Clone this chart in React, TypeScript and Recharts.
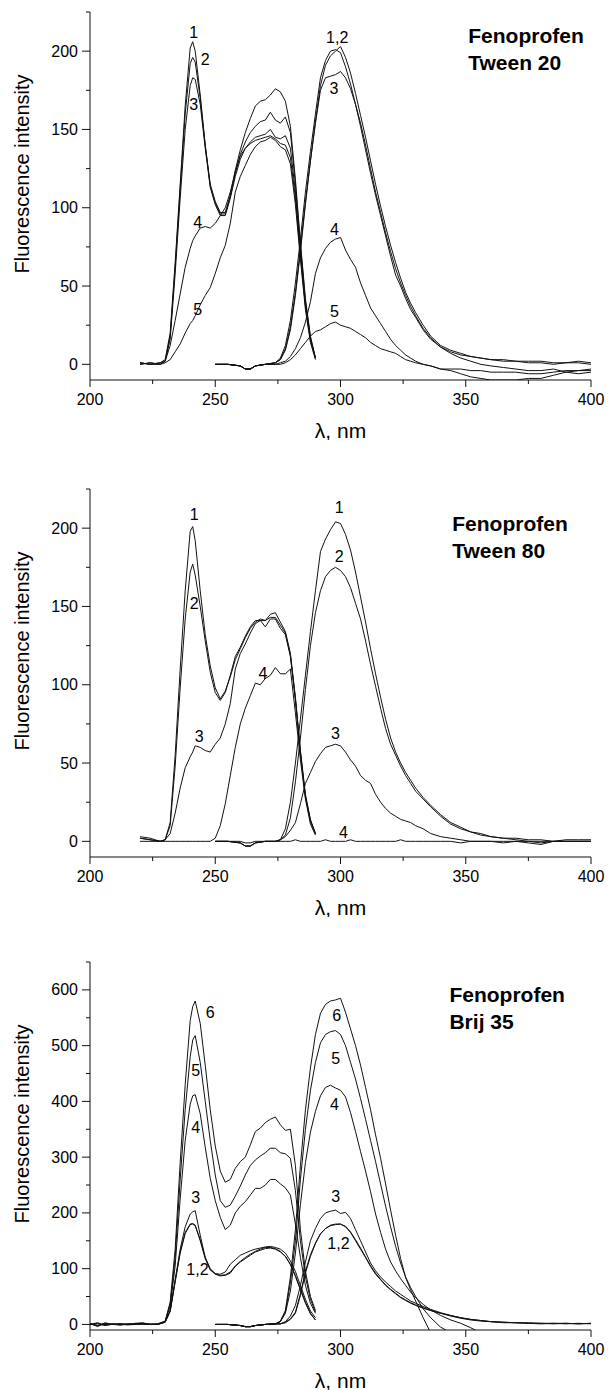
import React from "react";
import { LineChart, Line, XAxis, YAxis, ReferenceDot, Label } from "recharts";

const FONT = '"Liberation Sans", Arial, Helvetica, sans-serif';
const INK = "#111";

// wavelength grids, nm
const EX_WL = [220, 224, 228, 230, 232, 234, 236, 238, 240, 241, 242, 244, 246, 248, 250, 252, 254, 256, 258, 260, 262, 264, 266, 268, 270, 272, 274, 276, 278, 280, 282, 284, 286, 288, 290];
const BRIJ_EX_WL = [200, 203, 206, 209, 212, 215, 218, 221, 224, 227, 230, 232, 234, 236, 238, 240, 241, 242, 244, 246, 248, 250, 252, 254, 256, 258, 260, 262, 264, 266, 268, 270, 272, 274, 276, 278, 280, 282, 284, 286, 288, 290];
const EM_WL = [250, 255, 260, 262, 264, 266, 270, 274, 276, 278, 280, 282, 284, 286, 288, 290, 292, 294, 296, 298, 300, 302, 304, 306, 308, 310, 312, 314, 316, 318, 320, 322, 324, 326, 328, 330, 333, 336, 340, 344, 348, 352, 356, 360, 365, 370, 375, 380, 385, 390, 395, 400];

// Tween 20 - excitation
const T20_EX_1 = [1, 0, 1, 3, 20, 65, 115, 165, 202, 206, 200, 172, 140, 115, 104, 97, 97, 108, 124, 137, 148, 157, 165, 168, 169, 172, 176, 174, 168, 152, 118, 78, 42, 18, 4];
const T20_EX_2 = [0, 1, 0, 2, 18, 62, 112, 160, 192, 196, 193, 170, 140, 114, 103, 96, 96, 107, 122, 134, 142, 148, 152, 155, 156, 161, 156, 154, 158, 148, 115, 76, 40, 17, 4];
const T20_EX_3 = [1, 0, 1, 2, 16, 58, 106, 150, 178, 183, 182, 166, 138, 113, 102, 95, 95, 106, 120, 131, 138, 142, 145, 146, 147, 150, 145, 144, 146, 138, 110, 72, 38, 16, 4];
const T20_EX_4 = [0, 1, 0, 2, 12, 28, 45, 62, 74, 79, 82, 87, 88, 87, 90, 95, 100, 110, 123, 133, 138, 141, 143, 144, 145, 146, 144, 141, 140, 132, 106, 70, 37, 15, 4];
const T20_EX_5 = [1, 0, 0, 1, 3, 8, 13, 20, 26, 28, 31, 38, 44, 49, 58, 68, 76, 90, 110, 120, 127, 134, 139, 142, 143, 145, 143, 139, 137, 128, 102, 67, 35, 14, 3];
// Tween 20 - emission
const T20_EM_1 = [0, 0, -1, -3, -3, -1, 0, 1, 4, 12, 28, 52, 80, 110, 136, 160, 183, 194, 200, 201, 199, 190, 179, 166, 152, 137, 122, 108, 95, 82, 69, 57, 50, 42, 35, 30, 22, 16, 11, 8, 6, 5, 4, 3, 2, 2, 1, 1, 0, 1, 1, 0];
const T20_EM_2 = [0, 0, -1, -3, -3, -1, 0, 1, 3, 9, 22, 44, 72, 102, 130, 155, 178, 191, 197, 200, 203, 196, 186, 173, 159, 145, 130, 115, 101, 88, 76, 65, 55, 46, 39, 33, 25, 18, 12, 9, 7, 5, 4, 3, 3, 2, 2, 2, 1, 1, 2, 1];
const T20_EM_3 = [0, 0, -1, -3, -3, -1, 0, 1, 3, 10, 24, 46, 74, 104, 130, 154, 175, 183, 184, 185, 187, 183, 176, 166, 154, 140, 125, 110, 97, 84, 72, 61, 52, 44, 37, 31, 23, 17, 11, 7, 4, 2, 0, -1, -2, -3, -4, -4, -3, -5, -4, -4];
const T20_EM_4 = [0, 0, -1, -3, -3, -1, 0, 0, 1, 2, 5, 10, 17, 27, 40, 58, 68, 74, 78, 80, 81, 73, 67, 62, 52, 44, 36, 31, 26, 21, 16, 12, 9, 6, 4, 2, 0, -1, -3, -4, -6, -8, -9, -10, -10, -10, -9, -9, -7, -5, -6, -5];
const T20_EM_5 = [0, 0, -1, -3, -3, -1, 0, 0, 0, 1, 3, 6, 10, 14, 18, 21, 22, 24, 26, 27, 25, 24, 23, 21, 19, 17, 14, 12, 10, 9, 8, 7, 5, 3, 2, 1, 0, -1, -3, -3, -3, -4, -4, -5, -5, -5, -6, -6, -5, -4, -4, -3];

// Tween 80 - excitation
const T80_EX_1 = [3, 2, 0, 1, 12, 55, 110, 160, 198, 201, 192, 160, 132, 112, 98, 91, 96, 105, 116, 123, 130, 136, 140, 142, 141, 145, 146, 140, 134, 120, 92, 58, 30, 14, 5];
const T80_EX_2 = [2, 1, 0, 1, 10, 48, 98, 142, 172, 177, 170, 150, 128, 108, 95, 90, 95, 106, 118, 124, 131, 137, 141, 141, 137, 142, 142, 136, 132, 118, 90, 56, 28, 13, 5];
const T80_EX_3 = [2, 1, 0, 1, 5, 18, 34, 47, 54, 57, 61, 60, 58, 57, 62, 66, 75, 88, 110, 120, 126, 133, 139, 141, 141, 143, 143, 138, 133, 119, 91, 57, 29, 13, 5];
const T80_EX_4 = [0, 0, 0, 0, 0, 0, 0, 0, 0, 0, 0, 0, 0, 0, 2, 10, 24, 42, 60, 75, 85, 93, 101, 100, 104, 106, 111, 107, 107, 110, 82, 52, 27, 11, 4];
// Tween 80 - emission
const T80_EM_1 = [0, 0, -1, -3, -3, -1, 0, 0, 1, 8, 25, 50, 78, 106, 134, 160, 185, 193, 199, 204, 203, 196, 186, 172, 156, 140, 123, 107, 92, 78, 66, 57, 50, 44, 39, 34, 28, 23, 17, 12, 9, 6, 5, 3, 2, 2, 1, 1, 0, 1, 1, 1];
const T80_EM_2 = [0, 0, -1, -3, -3, -1, 0, 0, 1, 4, 15, 38, 66, 97, 125, 146, 160, 169, 173, 175, 173, 169, 162, 152, 142, 128, 113, 99, 85, 72, 62, 55, 48, 42, 37, 32, 27, 22, 16, 11, 8, 6, 4, 3, 2, 1, 0, -1, 0, 0, 0, 0];
const T80_EM_3 = [0, 0, -1, -3, -3, -1, 0, 0, 1, 3, 7, 12, 24, 37, 44, 51, 56, 60, 61, 62, 61, 57, 52, 48, 42, 39, 37, 30, 25, 21, 18, 16, 14, 13, 12, 10, 8, 5, 3, 2, 1, 0, 0, 0, -1, 0, -1, -2, 0, 0, 0, 0];
const T80_EM_4 = [0, 0, 0, -1, -1, 0, 0, 0, 0, 0, 0, 1, 0, 0, 0, 0, 0, 1, 0, 0, 0, 0, 1, 0, 0, 0, 0, 0, 0, 0, 0, 0, 1, 0, 0, 0, 0, 0, 0, 0, -1, 0, 0, 0, 0, 0, 0, 0, 0, 0, 0, 0];

// Brij 35 - excitation
const BRIJ_EX_1 = [1, -2, 0, 1, -1, 0, 1, 2, 0, 0, 4, 24, 78, 130, 165, 180, 181, 178, 150, 118, 98, 90, 87, 88, 92, 104, 112, 118, 124, 130, 133, 136, 137, 135, 130, 122, 108, 88, 64, 40, 20, 8];
const BRIJ_EX_2 = [0, 3, -1, 0, 1, -1, 0, 1, 1, 0, 4, 23, 76, 128, 163, 179, 180, 177, 152, 120, 100, 91, 88, 89, 94, 105, 113, 120, 126, 131, 135, 138, 138, 136, 131, 122, 107, 86, 62, 38, 19, 8];
const BRIJ_EX_3 = [0, 1, -1, 0, 1, 0, 1, 0, 0, 0, 4, 25, 80, 135, 175, 198, 202, 204, 160, 120, 98, 91, 90, 94, 108, 116, 124, 128, 132, 135, 137, 139, 140, 138, 135, 128, 114, 95, 70, 45, 24, 12];
const BRIJ_EX_4 = [1, -2, 2, 0, -1, 1, 0, 2, 0, 0, 5, 32, 105, 225, 330, 395, 410, 412, 378, 318, 262, 222, 192, 170, 178, 200, 212, 220, 232, 244, 244, 250, 260, 260, 252, 245, 232, 180, 120, 70, 38, 20];
const BRIJ_EX_5 = [0, 2, -2, 1, 0, 1, 0, 1, 0, 1, 5, 36, 120, 260, 385, 480, 510, 518, 470, 400, 330, 268, 222, 210, 214, 230, 248, 268, 285, 295, 302, 308, 316, 316, 308, 306, 298, 240, 150, 85, 45, 22];
const BRIJ_EX_6 = [2, -4, 3, 0, 1, 0, 2, 3, 0, 1, 6, 40, 135, 290, 430, 545, 570, 580, 540, 465, 385, 320, 275, 255, 260, 280, 292, 300, 322, 346, 352, 362, 368, 372, 358, 348, 350, 285, 170, 95, 50, 25];
// Brij 35 - emission (curves 4-6 run off the bottom of the axis)
const BRIJ_EM_1 = [0, 0, -2, -4, -4, -2, 0, 1, 1, 4, 10, 22, 55, 95, 125, 146, 163, 172, 177, 179, 180, 175, 165, 150, 135, 120, 104, 90, 80, 70, 62, 55, 48, 43, 38, 34, 29, 25, 20, 16, 12, 9, 7, 5, 4, 3, 2, 2, 1, 2, 1, 2];
const BRIJ_EM_2 = [0, 0, -2, -4, -4, -2, 0, 1, 1, 3, 9, 20, 52, 92, 122, 145, 162, 172, 178, 180, 180, 176, 166, 152, 137, 121, 105, 92, 81, 71, 63, 56, 49, 44, 39, 35, 30, 25, 20, 15, 11, 8, 6, 5, 3, 3, 2, 1, 2, 1, 2, 1];
const BRIJ_EM_3 = [0, 0, -2, -4, -4, -2, 0, 1, 1, 5, 15, 34, 70, 112, 150, 172, 190, 200, 203, 205, 199, 201, 190, 170, 150, 130, 110, 96, 85, 76, 68, 60, 54, 48, 42, 38, 32, 27, 21, 16, 12, 9, 7, 5, 4, 3, 3, 2, 2, 2, 1, 2];
const BRIJ_EM_4 = [0, 0, -2, -4, -4, -2, 0, 1, 5, 20, 60, 128, 215, 290, 345, 382, 410, 425, 429, 424, 420, 408, 380, 346, 310, 275, 238, 198, 165, 135, 112, 96, 82, 70, 58, 48, 36, 26, 16, 8, 2, -6, -15, null, null, null, null, null, null, null, null, null];
const BRIJ_EM_5 = [0, 0, -2, -4, -4, -2, 0, 1, 5, 22, 75, 150, 260, 350, 420, 470, 505, 520, 525, 527, 520, 500, 470, 440, 405, 368, 330, 292, 252, 212, 175, 140, 110, 85, 66, 50, 28, 12, -5, -15, null, null, null, null, null, null, null, null, null, null, null, null];
const BRIJ_EM_6 = [0, 0, -2, -4, -4, -2, 0, 1, 6, 25, 85, 170, 285, 385, 460, 520, 558, 574, 580, 582, 585, 560, 530, 500, 465, 425, 385, 340, 298, 252, 205, 160, 118, 84, 62, 42, 12, -15, null, null, null, null, null, null, null, null, null, null, null, null, null, null];

const X_TICKS = [200, 225, 250, 275, 300, 325, 350, 375, 400];
const Y_TICKS_TWEEN = [0, 25, 50, 75, 100, 125, 150, 175, 200, 225];
const Y_TICKS_BRIJ = [0, 50, 100, 150, 200, 250, 300, 350, 400, 450, 500, 550, 600, 650];

const pts = (xs: number[], ys: (number | null)[]) => xs.map((x, i) => ({ x, y: ys[i] }));

type Note = { text: string; x: number; y: number };

const PANELS = [
  {
    top: 0,
    yMax: 225,
    yTicks: Y_TICKS_TWEEN,
    yMajor: 50,
    title: ["Fenoprofen", "Tween 20"],
    titleAt: { x: 351, y: 205 },
    series: [
      pts(EX_WL, T20_EX_1), pts(EX_WL, T20_EX_2), pts(EX_WL, T20_EX_3), pts(EX_WL, T20_EX_4), pts(EX_WL, T20_EX_5),
      pts(EM_WL, T20_EM_1), pts(EM_WL, T20_EM_2), pts(EM_WL, T20_EM_3), pts(EM_WL, T20_EM_4), pts(EM_WL, T20_EM_5),
    ],
    notes: [
      { text: "1", x: 241.4, y: 212 }, { text: "2", x: 246, y: 195 }, { text: "3", x: 241.4, y: 166 },
      { text: "4", x: 243, y: 91 }, { text: "5", x: 243, y: 35 },
      { text: "1,2", x: 298.7, y: 209 }, { text: "3", x: 297.4, y: 176 }, { text: "4", x: 297.6, y: 86 }, { text: "5", x: 297.6, y: 34 },
    ] as Note[],
  },
  {
    top: 477,
    yMax: 225,
    yTicks: Y_TICKS_TWEEN,
    yMajor: 50,
    title: ["Fenoprofen", "Tween 80"],
    titleAt: { x: 344.6, y: 198 },
    series: [
      pts(EX_WL, T80_EX_1), pts(EX_WL, T80_EX_2), pts(EX_WL, T80_EX_3), pts(EX_WL, T80_EX_4),
      pts(EM_WL, T80_EM_1), pts(EM_WL, T80_EM_2), pts(EM_WL, T80_EM_3), pts(EM_WL, T80_EM_4),
    ],
    notes: [
      { text: "1", x: 241.6, y: 209 }, { text: "2", x: 241.6, y: 152 }, { text: "3", x: 243.6, y: 67 }, { text: "4", x: 269, y: 107 },
      { text: "1", x: 299.5, y: 213 }, { text: "2", x: 299.5, y: 182 }, { text: "3", x: 298, y: 69 }, { text: "4", x: 301.2, y: 6 },
    ] as Note[],
  },
  {
    top: 950,
    yMax: 650,
    yTicks: Y_TICKS_BRIJ,
    yMajor: 100,
    title: ["Fenoprofen", "Brij 35"],
    titleAt: { x: 343.5, y: 578 },
    series: [
      pts(BRIJ_EX_WL, BRIJ_EX_1), pts(BRIJ_EX_WL, BRIJ_EX_2), pts(BRIJ_EX_WL, BRIJ_EX_3),
      pts(BRIJ_EX_WL, BRIJ_EX_4), pts(BRIJ_EX_WL, BRIJ_EX_5), pts(BRIJ_EX_WL, BRIJ_EX_6),
      pts(EM_WL, BRIJ_EM_1), pts(EM_WL, BRIJ_EM_2), pts(EM_WL, BRIJ_EM_3),
      pts(EM_WL, BRIJ_EM_4), pts(EM_WL, BRIJ_EM_5), pts(EM_WL, BRIJ_EM_6),
    ],
    notes: [
      { text: "6", x: 248, y: 559 }, { text: "5", x: 242.2, y: 456 }, { text: "4", x: 242.2, y: 354 },
      { text: "3", x: 242.2, y: 228 }, { text: "1,2", x: 242.9, y: 99 },
      { text: "6", x: 298.5, y: 554 }, { text: "5", x: 298.1, y: 477 }, { text: "4", x: 297.6, y: 395 },
      { text: "3", x: 298.1, y: 229 }, { text: "1,2", x: 299.2, y: 145 },
    ] as Note[],
  },
];

function XTick({ x, y, payload }: any) {
  const major = payload.value % 50 === 0;
  return (
    <g>
      <line x1={x} x2={x} y1={y} y2={y + (major ? 7 : 4)} stroke={INK} />
      {major && (
        <text x={x} y={y + 25} textAnchor="middle" fontSize={16} fontFamily={FONT} fill="#000">
          {payload.value}
        </text>
      )}
    </g>
  );
}

const makeYTick = (majorStep: number) => ({ x, y, payload }: any) => {
  const major = payload.value % majorStep === 0;
  return (
    <g>
      <line x1={x - (major ? 8 : 4)} x2={x} y1={y} y2={y} stroke={INK} />
      {major && (
        <text x={x - 12} y={y} textAnchor="end" dominantBaseline="central" fontSize={16} fontFamily={FONT} fill="#000">
          {payload.value}
        </text>
      )}
    </g>
  );
};

function Panel({ cfg }: { cfg: (typeof PANELS)[number] }) {
  const YTick = makeYTick(cfg.yMajor);
  return (
    <div style={{ position: "absolute", left: 0, top: cfg.top }}>
      <LineChart width={613} height={440} margin={{ top: 12, right: 22, bottom: 0, left: 0 }} style={{ fontFamily: FONT }}>
        <XAxis
          type="number"
          dataKey="x"
          domain={[200, 400]}
          ticks={X_TICKS}
          interval={0}
          tickSize={0}
          tickMargin={0}
          tickLine={false}
          tick={(p: any) => <XTick {...p} />}
          axisLine={{ stroke: INK }}
          height={60}
          allowDataOverflow
        >
          <Label
            content={(p: any) => {
              const vb = p.viewBox;
              return (
                <text x={vb.x + vb.width / 2} y={vb.y + 50} textAnchor="middle" dominantBaseline="central" fontSize={21} fontFamily={FONT} fill="#000">
                  λ, nm
                </text>
              );
            }}
          />
        </XAxis>
        <YAxis
          type="number"
          domain={[-10, cfg.yMax]}
          ticks={cfg.yTicks}
          interval={0}
          tickSize={0}
          tickMargin={0}
          tickLine={false}
          tick={(p: any) => <YTick {...p} />}
          axisLine={{ stroke: INK }}
          width={90}
          allowDataOverflow
        >
          <Label
            content={(p: any) => {
              const vb = p.viewBox;
              const cx = 22;
              const cy = vb.y + 162;
              return (
                <text x={cx} y={cy} transform={`rotate(-90 ${cx} ${cy})`} textAnchor="middle" dominantBaseline="central" fontSize={20} fontFamily={FONT} fill="#000">
                  Fluorescence intensity
                </text>
              );
            }}
          />
        </YAxis>
        {cfg.series.map((d, i) => (
          <Line
            key={i}
            data={d}
            dataKey="y"
            type="linear"
            stroke={INK}
            strokeWidth={1}
            dot={false}
            activeDot={false}
            isAnimationActive={false}
          />
        ))}
        {cfg.notes.map((n, i) => (
          <ReferenceDot
            key={`n${i}`}
            x={n.x}
            y={n.y}
            r={0}
            fill="none"
            stroke="none"
            ifOverflow="visible"
            label={{ value: n.text, position: "center", fontSize: 16, fontFamily: FONT, fill: "#000" }}
          />
        ))}
        <ReferenceDot
          x={cfg.titleAt.x}
          y={cfg.titleAt.y}
          r={0}
          fill="none"
          stroke="none"
          ifOverflow="visible"
          label={{
            content: (p: any) => {
              const vb = p.viewBox;
              return (
                <text x={vb.x} y={vb.y} fontSize={21} fontWeight="bold" fontFamily={FONT} fill="#000">
                  <tspan x={vb.x}>{cfg.title[0]}</tspan>
                  <tspan x={vb.x} dy={27}>{cfg.title[1]}</tspan>
                </text>
              );
            },
          }}
        />
      </LineChart>
    </div>
  );
}

export default function App() {
  return (
    <div style={{ position: "absolute", left: 0, top: 0, width: 613, height: 1390, background: "#fff" }}>
      {PANELS.map((cfg, i) => (
        <Panel key={i} cfg={cfg} />
      ))}
    </div>
  );
}
